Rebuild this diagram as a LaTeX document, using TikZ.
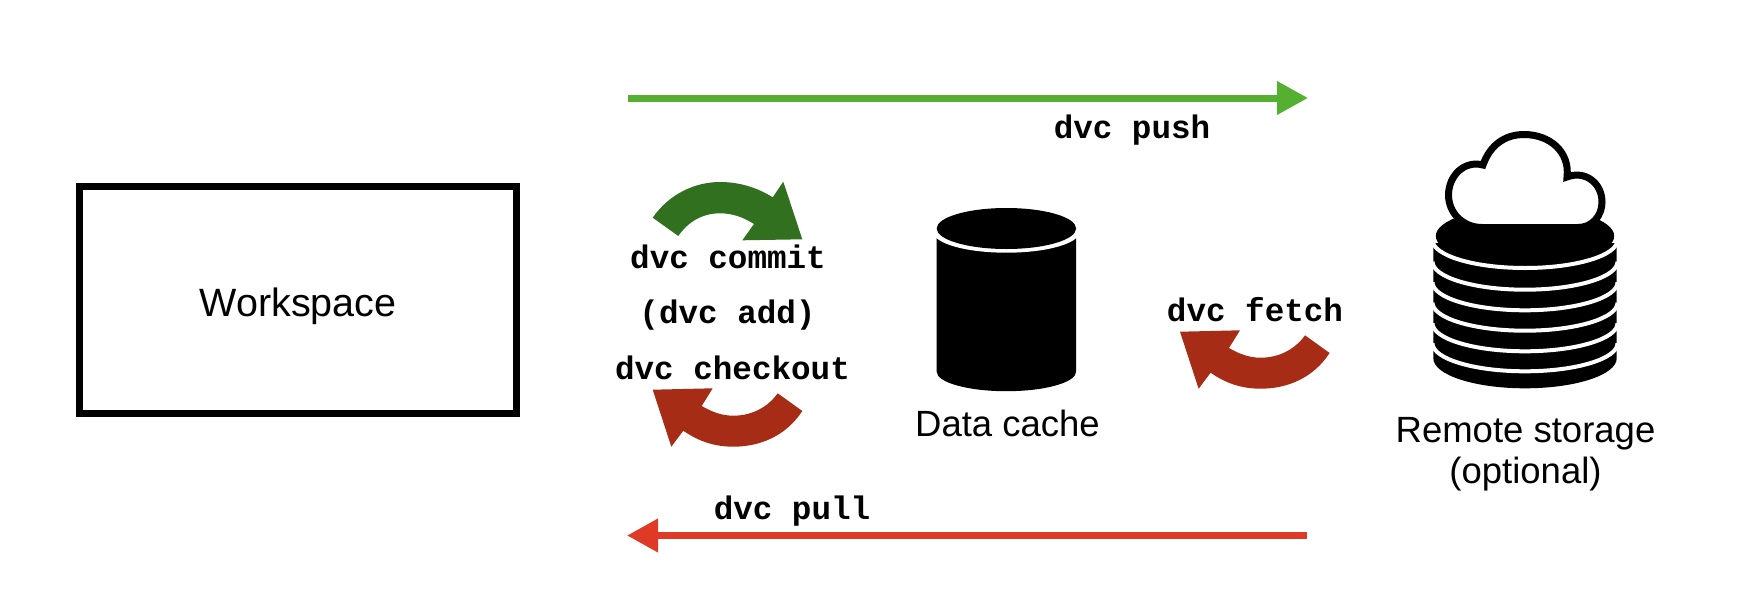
\documentclass[tikz,border=0pt]{standalone}
\usepackage{fontspec}
\setmainfont{Liberation Sans}
\setmonofont{Liberation Mono}
\usetikzlibrary{arrows.meta}
\definecolor{pushgreen}{HTML}{55B031}
\definecolor{pullred}{HTML}{DE3A25}
\definecolor{commitgreen}{HTML}{31701F}
\definecolor{checkoutred}{HTML}{A62C15}
\tikzset{
  x=1pt,y=-1pt,
  label/.style={font=\fontsize{36.5}{41}\selectfont,align=center,inner sep=0pt},
  cmd/.style={font=\fontsize{32.6}{36}\selectfont\ttfamily\bfseries,inner sep=0pt},
  flow/.style={line width=7pt,-{Triangle[length=31pt,width=32pt]},shorten >=-1pt},
  whiteband/.style={draw=white,line width=4pt},
}
\newcommand{\redturn}{%
  (802.3,411) .. controls (786,436) and (760,446.7) .. (733.3,446.7)
  .. controls (714,446.7) and (698,441) .. (683.3,430.7)
  -- (671.3,446.7) -- (652.7,389.7) -- (712.7,388.3) -- (701.7,406)
  .. controls (712,412) and (722,415.7) .. (733.3,415.7)
  .. controls (752,415.7) and (768,407) .. (777.7,393.3) -- cycle}
\begin{document}
\begin{tikzpicture}
\useasboundingbox (0,0) rectangle (1746,608);
% Workspace
\node[draw=black,line width=7pt,minimum width=437pt,minimum height=227pt,inner sep=0pt] (ws) at (298,300) {};
\node[label,font=\fontsize{39.5}{44}\selectfont] (wst) at (298,306) {Workspace};
% straight arrows
\coordinate (pushA) at (628,98);
\coordinate (pushB) at (1307,98);
\coordinate (pullA) at (1307,535.5);
\coordinate (pullB) at (628,535.5);
\draw[flow,pushgreen] (pushA) -- (pushB);
\draw[flow,pullred] (pullA) -- (pullB);
\node[cmd] (push) at (1132,130) {dvc push};
\node[cmd] (pull) at (792,511) {dvc pull};
% commit arrow
\fill[commitgreen] (652.7,217.7) .. controls (669,194) and (695,182) .. (720,182)
  .. controls (740,182) and (758,188) .. (772.7,197.3)
  -- (783.3,181.7) -- (802.3,239.3) -- (742.3,240.3) -- (754,224)
  .. controls (743,217) and (732,213.3) .. (720,213.3)
  .. controls (702,213.3) and (688,222) .. (678.3,236) -- cycle;
% checkout and fetch arrows
\fill[checkoutred] \redturn;
\begin{scope}[shift={(527.3,-58)}]
\fill[checkoutred] \redturn;
\end{scope}
\node[cmd] (commit) at (728,257) {dvc commit};
\node[cmd] (add) at (727.5,315) {(dvc add)};
\node[cmd] (checkout) at (732.5,368) {dvc checkout};
\node[cmd] (fetch) at (1255,310) {dvc fetch};
% data cache cylinder
\fill[black] (936.7,238) -- (936.7,371.7) arc[start angle=180,end angle=0,x radius=69.7,y radius=19.5] -- (1076.1,238) -- cycle;
\fill[white] (1006.4,232) ellipse[x radius=73,y radius=20.7];
\fill[black] (1006.4,228.5) ellipse[x radius=69.7,y radius=20.5];
\node[label] (cache) at (1007.5,423) {Data cache};
% remote storage stack
\fill[black] (1433.3,243) -- (1433.3,358.3) arc[start angle=180,end angle=0,x radius=91.7,y radius=30] -- (1616.7,243) -- cycle;
\foreach \yy in {240,261.7,282.3,302.7,323.3,343.3}
  \draw[whiteband] (1432.5,\yy) arc[start angle=180,end angle=0,x radius=92.5,y radius=28];
\fill[black] (1525,236) ellipse[x radius=89.2,y radius=29];
% cloud
\draw[black,fill=white,line width=7pt,miter limit=10]
  (1482,227.5) .. controls (1463,227.5) and (1448.5,213) .. (1448.5,195)
  .. controls (1448.5,176) and (1464,160) .. (1483,165)
  .. controls (1490,145) and (1505,134.5) .. (1524,134.5)
  .. controls (1550,134.5) and (1570,152) .. (1567,177)
  .. controls (1585,170) and (1602,183) .. (1602,202)
  .. controls (1602,216) and (1592,227.5) .. (1578,227.5) -- cycle;
\node[label] (remote) at (1525.5,454) {Remote storage\\(optional)};
\end{tikzpicture}
\end{document}
